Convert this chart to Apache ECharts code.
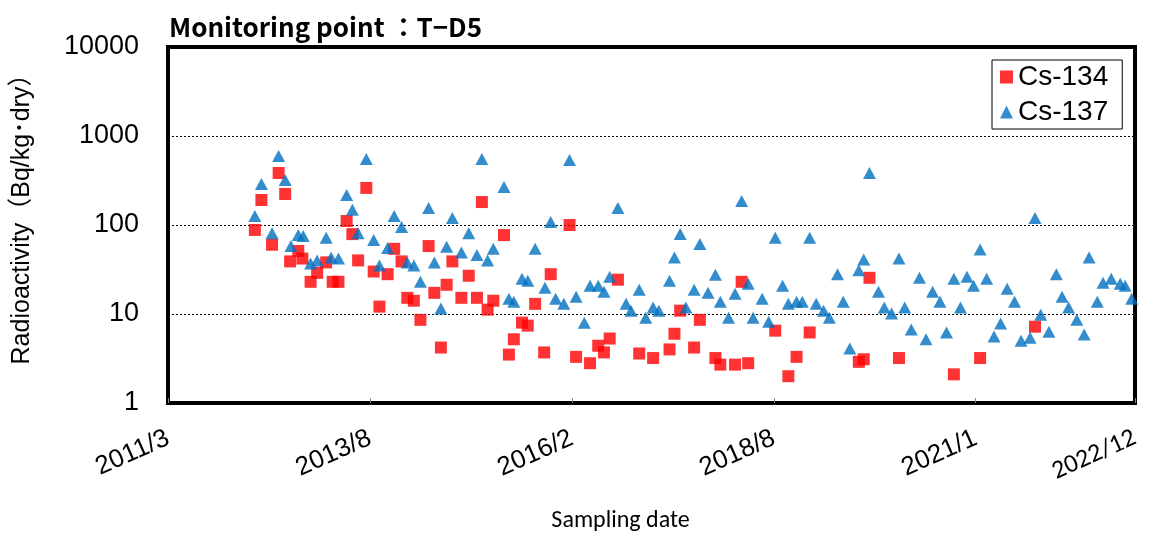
<!DOCTYPE html>
<html>
<head>
<meta charset="utf-8">
<script src="https://cdn.jsdelivr.net/npm/echarts@6/dist/echarts.min.js"></script>
<style>html,body{margin:0;padding:0;background:#fff;}#c{width:1149px;height:540px;}</style>
</head>
<body>
<div id="c"></div>
<script>
// Sampling dates as decimal years, values in Bq/kg-dry
const cs134Dates = [2012.25,2012.33,2012.46,2012.54,2012.62,2012.68,2012.78,2012.83,2012.93,2013.01,2013.12,2013.20,2013.27,2013.37,2013.44,2013.51,2013.61,2013.70,2013.77,2013.87,2013.95,2014.04,2014.11,2014.19,2014.27,2014.37,2014.44,2014.52,2014.59,2014.66,2014.77,2014.86,2014.96,2015.02,2015.09,2015.16,2015.29,2015.35,2015.41,2015.51,2015.58,2015.67,2015.78,2015.86,2016.09,2016.17,2016.34,2016.44,2016.51,2016.58,2016.68,2016.94,2017.11,2017.31,2017.37,2017.44,2017.61,2017.68,2017.87,2017.93,2018.11,2018.19,2018.27,2018.60,2018.76,2018.86,2019.02,2019.62,2019.68,2019.75,2020.11,2020.78,2021.10,2021.77];
const cs134Values = [88,191,60,384,223,39,51,42,23,29,38,23,23,111,79,40,261,30,12.1,28,54,39,15.2,14.1,8.6,58,17.3,4.2,21.3,39,15.2,26.9,15.2,181,11.2,14.1,77,3.5,5.2,8.0,7.4,13.0,3.7,28,100,3.3,2.8,4.4,3.7,5.3,24.3,3.6,3.2,4.0,6.0,10.9,4.2,8.6,3.2,2.7,2.7,23,2.8,6.5,2.0,3.3,6.2,2.9,3.1,25.5,3.2,2.1,3.2,7.2];
const cs137Dates = [2012.25,2012.33,2012.46,2012.54,2012.62,2012.69,2012.78,2012.84,2012.93,2013.01,2013.12,2013.18,2013.27,2013.37,2013.44,2013.51,2013.61,2013.70,2013.77,2013.87,2013.95,2014.04,2014.11,2014.19,2014.27,2014.37,2014.44,2014.52,2014.59,2014.66,2014.77,2014.86,2014.96,2015.02,2015.09,2015.16,2015.29,2015.35,2015.41,2015.51,2015.58,2015.67,2015.79,2015.86,2015.92,2016.02,2016.09,2016.17,2016.27,2016.34,2016.44,2016.51,2016.58,2016.68,2016.78,2016.84,2016.94,2017.02,2017.11,2017.18,2017.31,2017.37,2017.44,2017.51,2017.61,2017.68,2017.78,2017.87,2017.93,2018.03,2018.11,2018.19,2018.27,2018.33,2018.44,2018.52,2018.60,2018.69,2018.76,2018.86,2018.93,2019.02,2019.10,2019.19,2019.26,2019.36,2019.43,2019.51,2019.62,2019.68,2019.75,2019.86,2019.93,2020.02,2020.11,2020.18,2020.26,2020.36,2020.44,2020.52,2020.61,2020.69,2020.78,2020.86,2020.94,2021.02,2021.10,2021.18,2021.27,2021.35,2021.43,2021.52,2021.60,2021.71,2021.77,2021.84,2021.94,2022.03,2022.10,2022.18,2022.28,2022.37,2022.43,2022.53,2022.60,2022.70,2022.81,2022.87,2022.95];
const cs137Values = [126,289,81,595,320,58,77,75,37,40,72,43,42,218,148,81,551,68,35,55,126,95,38,35,23,155,38,11.5,57,120,49,81,46,551,40,54,267,14.8,13.7,24.9,23.6,54,19.7,108,14.8,13.0,537,15.6,8.0,20.8,20.8,17.8,26.2,155,13.0,10.9,18.7,9.1,11.8,10.9,23.6,43,79,11.8,18.7,61,17.3,27.6,13.7,9.1,16.9,186,21.9,9.1,14.8,8.2,72,20.8,13.0,13.7,13.7,72,13.0,10.9,9.1,28,13.7,4.1,31,41,384,17.8,11.8,10.1,42,11.8,6.7,25.5,5.2,17.8,13.7,6.2,24.9,11.8,26.2,20.8,53,24.9,5.6,7.8,19.2,13.7,5.0,5.4,120,9.8,6.3,28,15.6,11.8,8.6,5.9,43,13.7,22.4,24.9,21.9,20.8,14.8];
const tickLabels = ['2011/3','2013/8','2016/2','2018/8','2021/1','2022/12'];
const yTicks = [1,10,100,1000,10000];

const BASE_YEAR = 2011.19;          // 2011-03-11
const toDays = y => (y - BASE_YEAR) * 365.25;
const X_MAX = 4310;                 // 2022/12 end of axis

const chart = echarts.init(document.getElementById('c'), null, {renderer:'canvas'});
chart.setOption({
  animation:false,
  backgroundColor:'#fff',
  title:{
    text:'Monitoring point ：T−D5',
    left:164, top:9,
    textStyle:{fontFamily:'"Noto Sans CJK JP"', fontWeight:'bold', fontSize:26, color:'#000'}
  },
  legend:{
    orient:'vertical', left:992, top:60,
    backgroundColor:'#fff', borderColor:'#000', borderWidth:1,
    padding:[3,14,3,8], itemGap:7, itemWidth:13, itemHeight:13,
    textStyle:{fontFamily:'"Liberation Sans", Arial', fontSize:28, color:'#000'},
    data:['Cs-134','Cs-137']
  },
  grid:{left:168, right:14, top:47, bottom:137, show:true, borderColor:'#000', borderWidth:4, backgroundColor:'#fff'},
  xAxis:{
    type:'value', min:0, max:X_MAX, interval:900,
    name:'Sampling date', nameLocation:'middle', nameGap:106,
    nameTextStyle:{fontFamily:'Carlito, Lato, sans-serif', fontSize:24, color:'#000', padding:[0,62,0,0]},
    axisLine:{show:false},
    axisTick:{show:true, inside:true, length:5, lineStyle:{color:'#888', width:1}},
    splitLine:{show:false},
    axisLabel:{
      rotate:24, margin:34, showMaxLabel:true, showMinLabel:true,
      fontFamily:'"Liberation Sans", Arial', fontSize:26, color:'#000',
      formatter:(v)=> v >= X_MAX ? '{m|' + tickLabels[5] + '}' : tickLabels[Math.round(v/900)],
      rich:{m:{fontFamily:'Carlito, Lato, sans-serif', fontSize:26, color:'#000'}}
    }
  },
  yAxis:{
    type:'log', logBase:10, min:1, max:10000,
    name:'Radioactivity（Bq/kg･dry）', nameLocation:'middle', nameGap:133,
    nameTextStyle:{fontFamily:'"Liberation Sans", "Noto Sans CJK JP"', fontSize:25, color:'#000', padding:[0,0,0,24]},
    axisLine:{show:false}, axisTick:{show:false},
    axisLabel:{margin:29, fontFamily:'"Liberation Sans", Arial', fontSize:27, color:'#000',
      formatter:v=> yTicks.includes(Math.round(v)) ? String(Math.round(v)) : ''},
    splitLine:{show:true, lineStyle:{color:'#000', width:1, type:[2,2]}}
  },
  series:[
    {name:'Cs-134', type:'scatter', symbol:'rect', symbolSize:12,
     itemStyle:{color:'#FF0000'},
     data:cs134Dates.map((d,i)=>[toDays(d), cs134Values[i]])},
    {name:'Cs-137', type:'scatter', symbol:'triangle', symbolSize:[13,12],
     itemStyle:{color:'#0070C0'},
     data:cs137Dates.map((d,i)=>[toDays(d), cs137Values[i]])}
  ]
});
</script>
</body>
</html>
